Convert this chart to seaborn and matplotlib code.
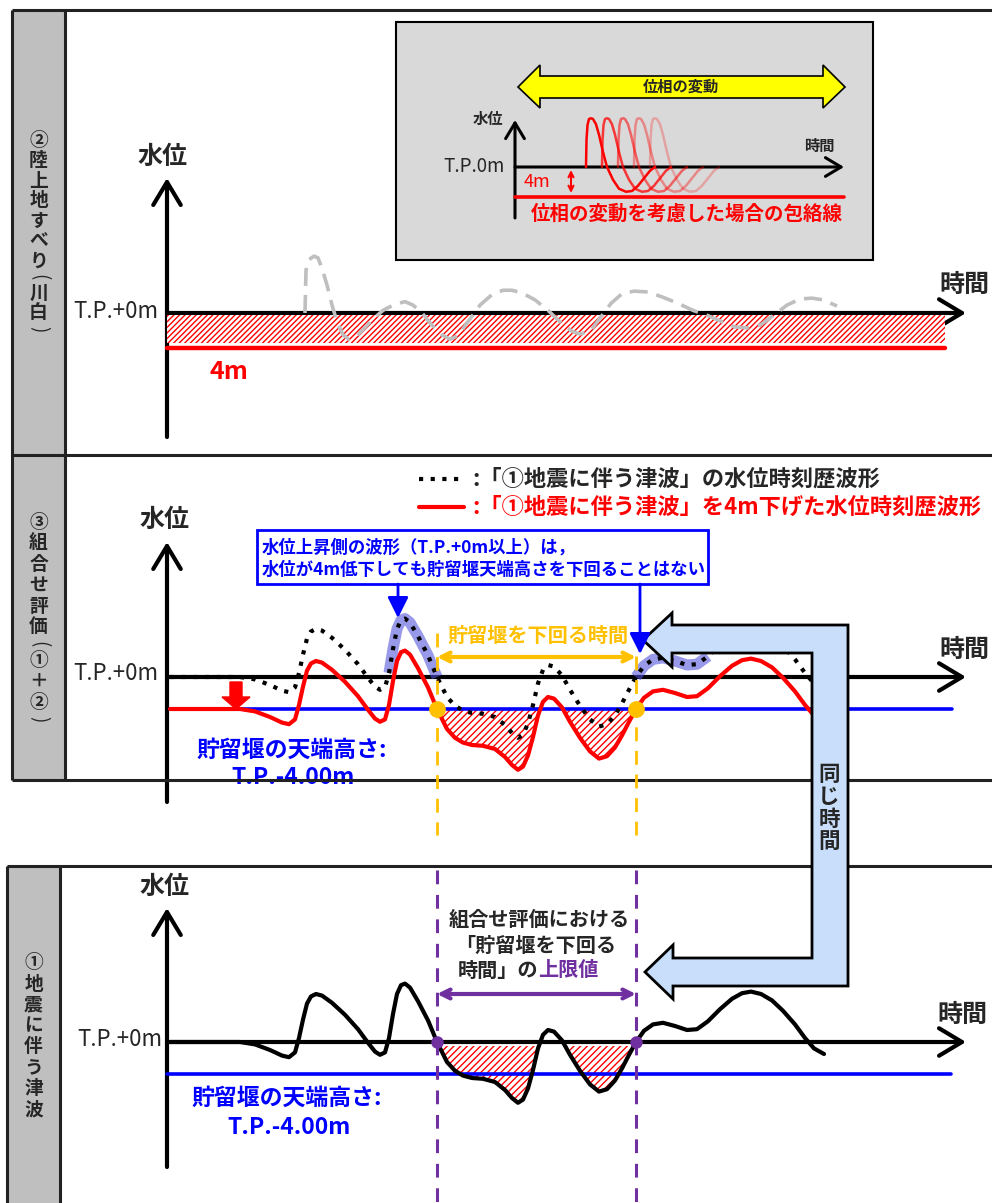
import matplotlib
matplotlib.use("Agg")
import matplotlib.pyplot as plt
from matplotlib.patches import Rectangle, Polygon
import numpy as np
import seaborn as sns

sns.set_theme(style="white")
plt.rcParams['font.family'] = ['Noto Sans CJK JP', 'DejaVu Sans']
plt.rcParams['hatch.color'] = 'red'
plt.rcParams['hatch.linewidth'] = 1.0

W, H = 992, 1203

# ---- data ----
# ① earthquake tsunami: time (px along the shared time axis) and water level (m)
tsunami_t = [170, 200, 240, 255, 270, 282, 289, 295, 299, 303, 307, 311, 316, 322, 332,
             345, 358, 368, 375, 380, 385, 389, 393, 397, 401, 405, 410, 418, 428, 437,
             447, 455, 463, 472, 483, 495, 505, 512, 518, 523, 528, 533, 538, 543, 548,
             554, 562, 570, 580, 590, 599, 607, 615, 622, 629, 636, 644, 653, 663, 675,
             687, 697, 708, 720, 732, 742, 751, 761, 772, 783, 795, 805, 814, 824]
tsunami_m = [0.0, 0.0, 0.0, -0.3, -1.0, -1.7, -1.9, -1.3, 0.5, 2.8, 4.8, 5.7, 6.0, 5.8, 4.9,
             3.4, 1.6, -0.1, -1.2, -1.6, -1.3, 0.5, 3.5, 6.0, 7.1, 7.3, 6.8, 5.1, 2.7, 0.0,
             -2.5, -3.6, -4.2, -4.5, -4.6, -5.0, -6.0, -7.0, -7.6, -7.2, -5.8, -3.5, -0.8, 0.9, 1.5,
             1.3, 0.2, -1.6, -3.6, -5.3, -6.2, -5.9, -4.8, -3.3, -1.6, 0.0, 1.4, 2.2, 2.4, 2.0,
             1.5, 1.6, 2.6, 4.1, 5.4, 6.1, 6.3, 6.0, 5.2, 3.9, 2.2, 0.5, -0.8, -1.5]

# ② landslide wave (grey dashed)
slide_t = [305, 306, 309, 314, 318, 322, 327, 332, 337, 343, 349, 356, 363, 372, 383, 395,
           405, 413, 422, 432, 442, 450, 458, 468, 480, 492, 503, 512, 522, 535, 548, 560,
           572, 580, 590, 600, 611, 622, 634, 648, 663, 678, 693, 708, 722, 735, 748, 760,
           773, 787, 800, 812, 823, 837]
slide_m = [0.0, 4.9, 6.1, 6.5, 6.3, 5.1, 3.2, 0.9, -1.0, -2.5, -3.0, -2.7, -1.9, -0.8, 0.3, 1.0,
           1.3, 0.9, 0.0, -1.4, -2.5, -3.0, -2.6, -1.0, 0.9, 2.1, 2.6, 2.6, 2.3, 1.5, 0.3, -1.0,
           -2.1, -2.4, -2.1, -0.6, 1.1, 2.2, 2.5, 2.4, 1.8, 1.1, 0.3, -0.3, -1.0, -1.6, -1.7, -1.4,
           -0.3, 0.9, 1.6, 1.7, 1.5, 0.8]

# inset: one wave shape, repeated with phase shifts
phase_dt = [0, 0.5, 1.5, 3, 5, 7, 10, 13, 17, 21, 27, 33, 40, 46, 52, 58, 64, 69]
phase_m = [0.0, 3.6, 5.6, 6.4, 6.5, 6.4, 5.7, 4.3, 2.0, 0.0, -1.7, -2.9, -3.3, -3.2, -2.5, -1.5, -0.5, 0.0]
phase_start = [586, 602, 618, 634, 650]
phase_alpha = [1.0, 0.75, 0.55, 0.38, 0.25]

DROP = 4.0                  # m
T_BELOW = [437, 636]        # time window below the weir crest

RED = '#ff0000'
BLUE = '#0000ff'
ORANGE = '#ffc000'
PURPLE = '#7030a0'
LBLUE = '#c9defa'
DOTS = (0, (1, 1.8))

tsu_t = np.array(tsunami_t, dtype=float)
tsu_m = np.array(tsunami_m, dtype=float)

fig = plt.figure(figsize=(W / 100, H / 100), dpi=100)
ax = fig.add_axes([0, 0, 1, 1], zorder=0)
ax.set_xlim(0, W)
ax.set_ylim(H, 0)
ax.axis('off')


def pixel_axes(z):
    a = fig.add_axes([0, 0, 1, 1], zorder=z)
    a.set_xlim(0, W)
    a.set_ylim(H, 0)
    a.axis('off')
    a.patch.set_alpha(0)
    return a


def level_axes(y_zero, px_per_m, z):
    # full-figure axes whose y scale puts level 0 at pixel row y_zero
    a = fig.add_axes([0, 0, 1, 1], zorder=z)
    a.axis('off')
    a.patch.set_alpha(0)
    a._lim = ((y_zero - H) / px_per_m, y_zero / px_per_m)
    return a


a_in = level_axes(167, 7.5, 1)
a1 = level_axes(313, 8.75, 1)
a2 = level_axes(677, 8.0, 1)
a3 = level_axes(1042, 8.0, 1)
top = pixel_axes(5)

BOLD = dict(fontweight='bold')

# ---- panel frames and label columns ----
FR = dict(color='#222222', lw=2.2, zorder=6, solid_capstyle='butt')
ax.add_patch(Rectangle((12, 10), 53, 770, fc='#bfbfbf', ec='none', zorder=0))
ax.add_patch(Rectangle((7, 866), 53, H - 866, fc='#bfbfbf', ec='none', zorder=0))
for y in (10, 455, 780):
    ax.plot([12, W], [y, y], **FR)
ax.plot([12, 12], [10, 780], **FR)
ax.plot([65, 65], [10, 780], **FR)
ax.plot([7, W], [866, 866], **FR)
ax.plot([7, 7], [866, H], **FR)
ax.plot([60, 60], [866, H], **FR)


def vlabel(chars, x, y0, step, size=13.5):
    # vertical writing: stacked characters, brackets turned sideways
    y = y0
    prev_paren = False
    for i, c in enumerate(chars):
        paren = c in '()'
        if i > 0:
            y += step * (0.8 if (paren or prev_paren) else 1.0)
        if paren:
            ax.text(x, y, c, ha='center', va='center', fontsize=size, rotation=-90)
        else:
            ax.text(x, y, c, ha='center', va='center', fontsize=size, **BOLD)
        prev_paren = paren


vlabel(['②', '陸', '上', '地', 'す', 'べ', 'り', '(', '川', '白', ')'], 38.5, 141, 20)
vlabel(['③', '組', '合', 'せ', '評', '価', '(', '①', '＋', '②', ')'], 38.5, 522, 21)
vlabel(['①', '地', '震', 'に', '伴', 'う', '津', '波'], 33.5, 963, 21)


# ---- axes arrows ----
def axis_arrow(a, start, tip, lw=3.0, scale=22):
    a.annotate('', xy=tip, xytext=start,
               arrowprops=dict(arrowstyle='->,head_length=0.75,head_width=0.45',
                               lw=lw, color='black', mutation_scale=scale,
                               shrinkA=0, shrinkB=0), zorder=3)


for y0, ybot, ytip in ((313, 437, 178), (677, 802, 542), (1042, 1167, 908)):
    axis_arrow(ax, (167, ybot), (167, ytip))
    axis_arrow(ax, (167, y0), (966, y0))

for (x, y) in ((163, 157), (165, 520), (165, 887)):
    ax.text(x, y, '水位', ha='center', va='center', fontsize=18, **BOLD)
for (x, y) in ((964, 285), (964, 650), (962, 1015)):
    ax.text(x, y, '時間', ha='center', va='center', fontsize=18, **BOLD)
for (x, y) in ((158, 311), (158, 674), (162, 1040)):
    ax.text(x, y, 'T.P.+0m', ha='right', va='center', fontsize=16)

# ---- panel ②: landslide ----
a1.fill_between([167, 945], -0.25, -3.45, fc='white', ec=RED, hatch='//////', lw=0, zorder=1)
a1.plot([167, 945], [-DROP, -DROP], color=RED, lw=3.2, zorder=2)
sns.lineplot(x=slide_t, y=slide_m, ax=a1, estimator=None, sort=False,
             color='#bfbfbf', lw=2.6, linestyle=(0, (5, 2.5)), zorder=3)
ax.annotate('', xy=(237, 315), xytext=(237, 343),
            arrowprops=dict(arrowstyle='<->', color=RED, lw=2, mutation_scale=12,
                            shrinkA=0, shrinkB=0), zorder=4)
ax.text(229, 372, '4m', ha='center', va='center', color=RED, fontsize=18, **BOLD)

# inset
ax.add_patch(Rectangle((396, 22), 477, 238, fc='#d9d9d9', ec='black', lw=1.5, zorder=1))
ax.add_patch(Polygon([(518, 87), (540, 65), (540, 76), (823, 76), (823, 65), (845, 87),
                      (823, 108), (823, 98), (540, 98), (540, 108)],
                     closed=True, fc='#ffff00', ec='black', lw=1.2, zorder=2))
ax.text(681, 87, '位相の変動', ha='center', va='center', fontsize=11, **BOLD, zorder=3)
axis_arrow(ax, (515, 218), (515, 120), lw=2.2, scale=15)
axis_arrow(ax, (515, 167), (844, 167), lw=2.2, scale=15)
ax.text(488, 119, '水位', ha='center', va='center', fontsize=11, **BOLD, zorder=3)
ax.text(819, 146, '時間', ha='center', va='center', fontsize=11, **BOLD, zorder=3)
ax.text(505, 166, 'T.P.0m', ha='right', va='center', fontsize=13.5, zorder=3)
ax.text(537, 182, '4m', ha='center', va='center', fontsize=13, color=RED, zorder=3)
ax.annotate('', xy=(571, 170), xytext=(571, 193),
            arrowprops=dict(arrowstyle='<->', color=RED, lw=1.5, mutation_scale=9,
                            shrinkA=0, shrinkB=0), zorder=4)
ax.text(687, 214, '位相の変動を考慮した場合の包絡線', ha='center', va='center',
        fontsize=14, color=RED, **BOLD, zorder=3)
a_in.plot([515, 844], [-DROP, -DROP], color=RED, lw=2.6, zorder=2)
for s, al in zip(phase_start, phase_alpha):
    sns.lineplot(x=[s + d for d in phase_dt], y=phase_m, ax=a_in, estimator=None,
                 sort=False, color=RED, alpha=al, lw=1.8, zorder=3)

# ---- panel ③: combined evaluation ----
lowered = tsu_m - DROP
in_win = (tsu_t >= T_BELOW[0]) & (tsu_t <= T_BELOW[1])
a2.fill_between(tsu_t, lowered, -DROP, where=(lowered < -DROP) & in_win,
                interpolate=True, fc='white', ec=RED, hatch='/////', lw=0, zorder=1)
a2.plot([170, 952], [-DROP, -DROP], color=BLUE, lw=2.6, zorder=2)
hl1 = (tsu_t >= 388) & (tsu_t <= 437)
hl2 = (tsu_t >= 636) & (tsu_t <= 708)
for m in (hl1, hl2):
    a2.plot(tsu_t[m], tsu_m[m], color='#5555dd', alpha=0.6, lw=8, solid_capstyle='butt', zorder=3)
sns.lineplot(x=tsu_t, y=lowered, ax=a2, estimator=None, sort=False, color=RED, lw=3, zorder=4)
sns.lineplot(x=tsu_t, y=tsu_m, ax=a2, estimator=None, sort=False, color='black', lw=3,
             linestyle=DOTS, zorder=5)
a2.plot(T_BELOW, [-DROP, -DROP], 'o', color=ORANGE, ms=11, zorder=6)

# legend rows
ax.plot([419, 464], [479, 479], color='black', lw=3, linestyle=DOTS)
ax.text(472, 479, ':「①地震に伴う津波」の水位時刻歴波形', ha='left', va='center', fontsize=16, **BOLD)
ax.plot([419, 464], [507, 507], color=RED, lw=3)
ax.text(472, 507, ':「①地震に伴う津波」を4m下げた水位時刻歴波形', ha='left', va='center',
        fontsize=16, color=RED, **BOLD)

ax.text(292, 750, '貯留堰の天端高さ:', ha='center', va='center', fontsize=16.5, color=BLUE, **BOLD)
ax.text(293, 778, 'T.P.-4.00m', ha='center', va='center', fontsize=16.5, color=BLUE, **BOLD)

# red drop arrow
top.add_patch(Polygon([(230, 682), (242, 682), (242, 697), (250, 697), (236, 709),
                       (222, 697), (230, 697)], closed=True, fc=RED, ec=RED, lw=1))

# blue annotation box
top.add_patch(Rectangle((257, 530), 451, 54, fc='white', ec=BLUE, lw=2))
top.text(262, 548, '水位上昇側の波形（T.P.+0m以上）は，', ha='left', va='center',
         fontsize=12.5, color=BLUE, **BOLD)
top.text(262, 570, '水位が4m低下しても貯留堰天端高さを下回ることはない', ha='left', va='center',
         fontsize=12.5, color=BLUE, **BOLD)
for x, ytip in ((398, 618), (640, 654)):
    top.annotate('', xy=(x, ytip), xytext=(x, 584),
                 arrowprops=dict(arrowstyle='-|>,head_length=0.9,head_width=0.45', color=BLUE,
                                 lw=2, mutation_scale=14, shrinkA=0, shrinkB=0))

# orange window
top.plot([T_BELOW[0]] * 2, [633, 835], color=ORANGE, lw=2, linestyle=(0, (5, 3.5)))
top.plot([T_BELOW[1]] * 2, [656, 835], color=ORANGE, lw=2, linestyle=(0, (5, 3.5)))
top.annotate('', xy=(T_BELOW[0], 657), xytext=(T_BELOW[1], 657),
             arrowprops=dict(arrowstyle='<->', color=ORANGE, lw=3, mutation_scale=16,
                             shrinkA=0, shrinkB=0))
top.text(538, 635, '貯留堰を下回る時間', ha='center', va='center', fontsize=14.5, color=ORANGE, **BOLD)

# ---- panel ①: earthquake tsunami ----
a3.fill_between(tsu_t, tsu_m, -0.5, where=(tsu_m < -0.5) & in_win,
                interpolate=True, fc='white', ec=RED, hatch='/////', lw=0, zorder=1)
a3.plot([167, 951], [-DROP, -DROP], color=BLUE, lw=2.6, zorder=2)
sns.lineplot(x=tsu_t, y=tsu_m, ax=a3, estimator=None, sort=False, color='black', lw=3, zorder=4)
a3.plot(T_BELOW, [0, 0], 'o', color=PURPLE, ms=8, zorder=6)

ax.text(287, 1098, '貯留堰の天端高さ:', ha='center', va='center', fontsize=16.5, color=BLUE, **BOLD)
ax.text(289, 1128, 'T.P.-4.00m', ha='center', va='center', fontsize=16.5, color=BLUE, **BOLD)

for x in T_BELOW:
    top.plot([x, x], [870, H], color=PURPLE, lw=2.2, linestyle=(0, (4.5, 3.5)))
top.annotate('', xy=(T_BELOW[0], 994), xytext=(T_BELOW[1], 994),
             arrowprops=dict(arrowstyle='<->', color=PURPLE, lw=3, mutation_scale=16,
                             shrinkA=0, shrinkB=0))
top.text(539, 920, '組合せ評価における', ha='center', va='center', fontsize=14.5, **BOLD)
top.text(536, 945, '「貯留堰を下回る', ha='center', va='center', fontsize=14.5, **BOLD)
top.text(538, 970, '時間」の', ha='right', va='center', fontsize=14.5, **BOLD)
top.text(538, 970, '上限値', ha='left', va='center', fontsize=14.5, color=PURPLE, **BOLD)

# bracket arrow "same time"
top.add_patch(Polygon([(643, 640), (672, 613), (672, 625), (848, 625), (848, 986), (673, 986),
                       (673, 999), (645, 972), (673, 945), (673, 958), (812, 958), (812, 653),
                       (672, 653), (672, 667)], closed=True, fc=LBLUE, ec='black', lw=2))
for i, c in enumerate('同じ時間'):
    top.text(829, 774 + i * 22.5, c, ha='center', va='center', fontsize=15.5, **BOLD)

for a in (a_in, a1, a2, a3):
    a.set_xlim(0, W)
    a.set_ylim(*a._lim)

fig.savefig('out.png', dpi=100)
